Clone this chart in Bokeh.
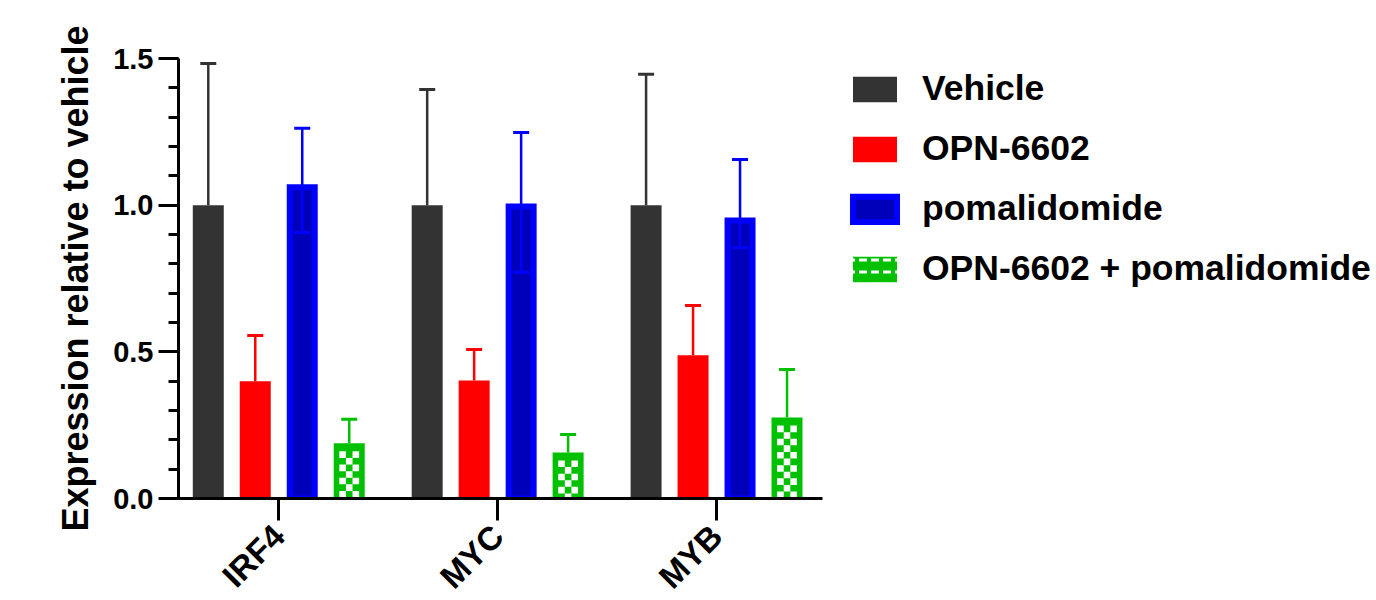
import math
import numpy as np
from bokeh.plotting import figure
from bokeh.models import (ColumnDataSource, Range1d, FixedTicker, Whisker, TeeHead,
                          Legend, LegendItem, NumeralTickFormatter)
from bokeh.embed import file_html
from bokeh.resources import INLINE

# ---------------- data ----------------
genes = ["IRF4", "MYC", "MYB"]
groups = ["Vehicle", "OPN-6602", "pomalidomide", "OPN-6602 + pomalidomide"]

vehicle = [1.0, 1.0, 1.0]
vehicle_err_hi = [1.483, 1.394, 1.446]

opn = [0.400, 0.402, 0.488]
opn_err_hi = [0.556, 0.508, 0.658]

poma = [1.071, 1.006, 0.958]
poma_err_hi = [1.262, 1.248, 1.156]
poma_err_lo = [0.907, 0.771, 0.856]

combo = [0.188, 0.157, 0.276]
combo_err_hi = [0.270, 0.218, 0.440]

y_ticks = [0.0, 0.5, 1.0, 1.5]
y_minor = [i / 10 for i in range(16)]

# ---------------- style ----------------
FONT = "Liberation Sans"
C_VEH = "#333333"
C_RED = "#FF0000"
C_BLUE = "#0000FF"
C_BLUE_FILL = "#0000BB"
C_GREEN = "#00C000"

PX_PER_X = 219.0     # pixels per category unit
PX_PER_Y = 293.3     # pixels per y unit
STEP = 47 / PX_PER_X
BAR_W = 31 / PX_PER_X

p = figure(frame_width=644, frame_height=440, output_backend="svg", toolbar_location=None,
           x_range=Range1d(-0.458, 2.484), y_range=Range1d(0, 1.5),
           min_border_left=178, min_border_right=0, min_border_top=58,
           min_border_bottom=102)
p.outline_line_color = None
p.xgrid.visible = False
p.ygrid.visible = False
p.background_fill_color = "white"
p.border_fill_color = "white"

base = np.arange(len(genes), dtype=float)
xs = [base + (k - 1.5) * STEP for k in range(4)]

# bars
r_veh = p.vbar(x=xs[0], top=vehicle, width=BAR_W, fill_color=C_VEH, line_color=None)
r_red = p.vbar(x=xs[1], top=opn, width=BAR_W, fill_color=C_RED, line_color=None)
inset_x = 3 / PX_PER_X
inset_y = 3 / PX_PER_Y
r_blue = p.vbar(x=xs[2], top=np.array(poma) - inset_y, bottom=-0.02,
                width=BAR_W - 2 * inset_x, fill_color=C_BLUE_FILL,
                line_color=C_BLUE, line_width=6, line_join="miter")
r_green = p.vbar(x=xs[3], top=combo, width=BAR_W, fill_color=C_GREEN, line_color=None)

# checker squares inside the green bars
cell = 6.6
cx = cell / PX_PER_X
cy = cell / PX_PER_Y
top_margin = 8 / PX_PER_Y
L, R, B, T = [], [], [], []
for xc, v in zip(xs[3], combo):
    y_top = v - top_margin
    r = 0
    while y_top - r * cy > 0:
        y1 = y_top - r * cy
        y0 = max(0.0, y1 - cy)
        cols = [0, 2] if r % 2 == 0 else [1]
        for c in cols:
            x0 = xc - 1.5 * cx + c * cx
            L.append(x0); R.append(x0 + cx); B.append(y0); T.append(y1)
        r += 1
p.quad(left=L, right=R, bottom=B, top=T, fill_color="white", line_color=None)

# error bars
def add_err(x, lo, hi, color, both=False):
    src = ColumnDataSource(dict(x=x, lo=lo, hi=hi))
    w = Whisker(source=src, base="x", lower="lo", upper="hi", dimension="height",
                line_color=color, line_width=2.5, level="overlay",
                upper_head=TeeHead(size=16, line_color=color, line_width=3),
                lower_head=TeeHead(size=16, line_color=color, line_width=3) if both else None)
    p.add_layout(w)

add_err(xs[0], vehicle, vehicle_err_hi, C_VEH)
add_err(xs[1], opn, opn_err_hi, C_RED)
add_err(xs[2], poma_err_lo, poma_err_hi, C_BLUE, both=True)
add_err(xs[3], combo, combo_err_hi, C_GREEN)

# legend swatch for the combination (checker look)
r_green_leg = p.vbar(x=[-10], top=[1], width=BAR_W, fill_color=C_GREEN, line_color=None,
                     hatch_pattern="horizontal_dash", hatch_color="white",
                     hatch_scale=12, hatch_weight=3)

# axes
xa = p.xaxis[0]
xa.ticker = FixedTicker(ticks=list(base))
xa.major_label_overrides = {i: g for i, g in enumerate(genes)}
xa.major_label_orientation = math.pi / 4
xa.axis_line_width = 3
xa.axis_line_color = "black"
xa.major_tick_line_width = 3
xa.major_tick_out = 22
xa.major_tick_in = 0
xa.minor_tick_line_color = None
xa.major_label_text_font = FONT
xa.major_label_text_font_style = "bold"
xa.major_label_text_font_size = "33px"
xa.major_label_text_color = "black"
xa.major_label_standoff = 10

ya = p.yaxis[0]
ya.ticker = FixedTicker(ticks=y_ticks, minor_ticks=y_minor)
ya.formatter = NumeralTickFormatter(format="0.0")
ya.axis_line_width = 3
ya.axis_line_color = "black"
ya.major_tick_line_width = 3
ya.major_tick_out = 20
ya.major_tick_in = 0
ya.minor_tick_line_width = 3
ya.minor_tick_out = 10
ya.minor_tick_in = 0
ya.major_label_text_font = FONT
ya.major_label_text_font_style = "bold"
ya.major_label_text_font_size = "29px"
ya.major_label_text_color = "black"
ya.major_label_standoff = 5
ya.axis_label = "Expression relative to vehicle"
ya.axis_label_text_font = FONT
ya.axis_label_text_font_style = "bold"
ya.axis_label_text_font_size = "36px"
ya.axis_label_text_color = "black"
ya.axis_label_standoff = 14

# legend
items = [LegendItem(label=groups[0], renderers=[r_veh]),
         LegendItem(label=groups[1], renderers=[r_red]),
         LegendItem(label=groups[2], renderers=[r_blue]),
         LegendItem(label=groups[3], renderers=[r_green_leg])]
legend = Legend(items=items, location=(25, 209), orientation="vertical",
                glyph_width=55, glyph_height=32, label_height=32, spacing=19,
                label_standoff=20, padding=0, margin=0,
                border_line_color=None, background_fill_alpha=0,
                label_text_font=FONT, label_text_font_style="bold",
                label_text_font_size="35.5px", label_text_color="black")
p.add_layout(legend, "right")

open("out.html", "w").write(file_html(p, INLINE))
